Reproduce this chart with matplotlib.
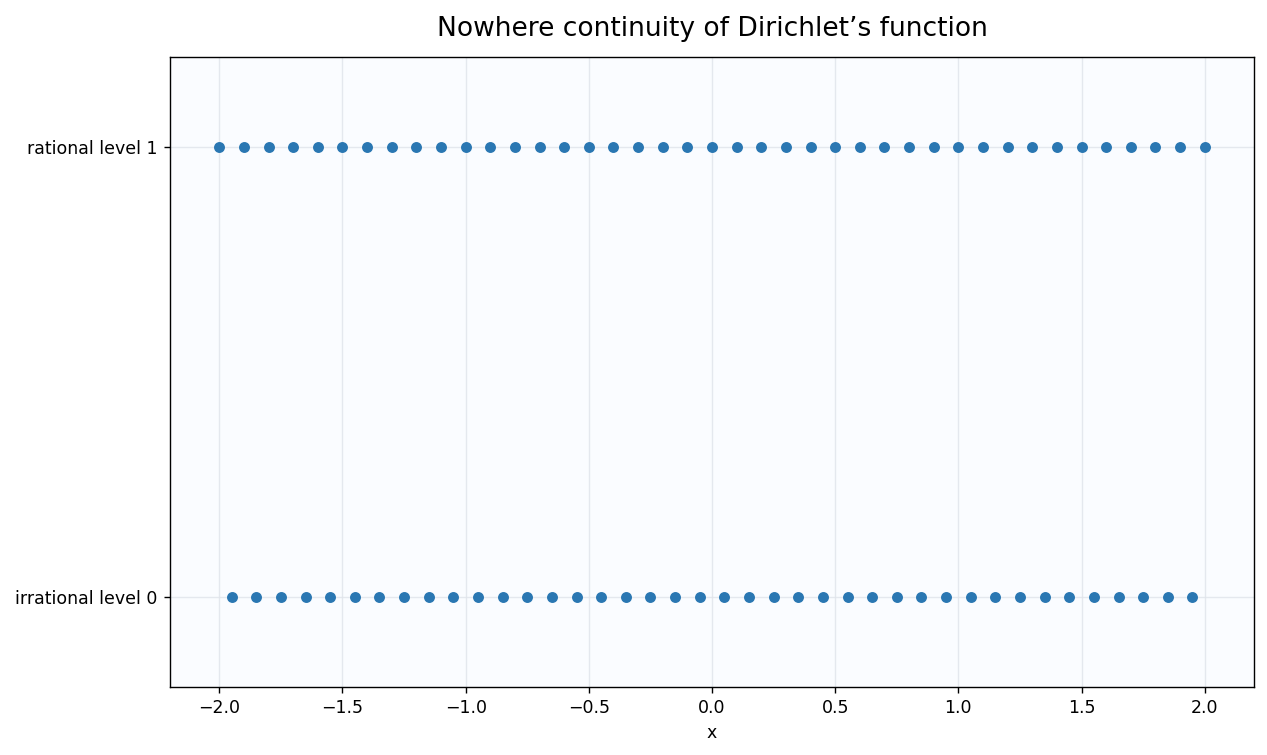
import matplotlib
matplotlib.use("Agg")
import matplotlib.pyplot as plt

# sample points on the two levels of Dirichlet's function
rational_x = [-2.0, -1.9, -1.8, -1.7, -1.6, -1.5, -1.4, -1.3, -1.2, -1.1,
              -1.0, -0.9, -0.8, -0.7, -0.6, -0.5, -0.4, -0.3, -0.2, -0.1,
              0.0, 0.1, 0.2, 0.3, 0.4, 0.5, 0.6, 0.7, 0.8, 0.9,
              1.0, 1.1, 1.2, 1.3, 1.4, 1.5, 1.6, 1.7, 1.8, 1.9, 2.0]
rational_y = [1] * len(rational_x)
irrational_x = [-1.95, -1.85, -1.75, -1.65, -1.55, -1.45, -1.35, -1.25, -1.15, -1.05,
                -0.95, -0.85, -0.75, -0.65, -0.55, -0.45, -0.35, -0.25, -0.15, -0.05,
                0.05, 0.15, 0.25, 0.35, 0.45, 0.55, 0.65, 0.75, 0.85, 0.95,
                1.05, 1.15, 1.25, 1.35, 1.45, 1.55, 1.65, 1.75, 1.85, 1.95]
irrational_y = [0] * len(irrational_x)
level_ticks = [0, 1]
level_labels = ["irrational level 0", "rational level 1"]

fig = plt.figure(figsize=(1267 / 125, 755 / 125), dpi=125)
ax = fig.add_axes([170 / 1267, 1 - 687 / 755, (1254 - 170) / 1267, (687 - 57) / 755])
ax.set_facecolor("#fafcff")
ax.grid(True, color="#dfe4ea", linewidth=0.8, alpha=0.8)
ax.set_axisbelow(True)

ax.scatter(rational_x, rational_y, s=28, color="#2a77b2", zorder=3)
ax.scatter(irrational_x, irrational_y, s=28, color="#2a77b2", zorder=3)

ax.set_xlim(-2.2, 2.2)
ax.set_ylim(-0.2, 1.2)
ax.set_yticks(level_ticks)
ax.set_yticklabels(level_labels)
ax.set_xlabel("x")
ax.set_title("Nowhere continuity of Dirichlet\u2019s function", fontsize=15.3, pad=12)

fig.savefig("out.png", dpi=125)
